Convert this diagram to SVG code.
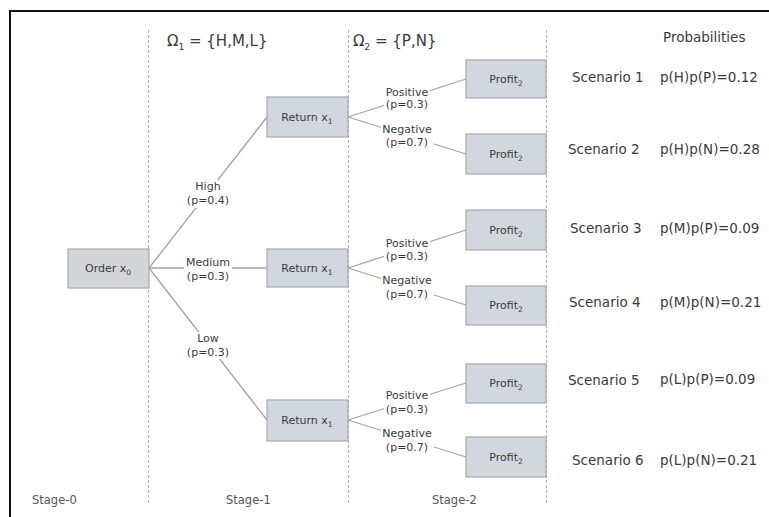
<svg xmlns="http://www.w3.org/2000/svg" width="769" height="517" viewBox="0 0 769 517">
<style>
text{font-family:"DejaVu Sans","Verdana",sans-serif;fill:#3a3a3a}
.box{fill:#d2d7de;stroke:#a6aab0;stroke-width:1.2}
.obox{fill:#d3d5d8;stroke:#a6aab0;stroke-width:1.2}
.bl{font-size:11px;text-anchor:middle}
.lbl{font-size:11px;text-anchor:middle}
.bg{fill:#fff}
.sc{font-size:13.5px}
.hd{font-size:15px}
.st{font-size:11.5px;fill:#555}
.sub{font-size:7.5px}
.dash{stroke:#b0b0b0;stroke-width:1;stroke-dasharray:3 2}
.conn line{stroke:#a3a3a3;stroke-width:1.3}
</style>
<rect x="10" y="11" width="770" height="530" fill="#fff" stroke="#111" stroke-width="2"/>
<g id="stage-dividers">
<line class="dash" x1="148.5" y1="30" x2="148.5" y2="504"/>
<line class="dash" x1="348.5" y1="30" x2="348.5" y2="504"/>
<line class="dash" x1="546.5" y1="30" x2="546.5" y2="504"/>
</g>
<g id="headers">
<text class="hd" x="167" y="46">Ω<tspan font-size="9" dy="4">1</tspan><tspan dy="-4"> = {H,M,L}</tspan></text>
<text class="hd" x="353" y="46">Ω<tspan font-size="9" dy="4">2</tspan><tspan dy="-4"> = {P,N}</tspan></text>
<text class="sc" x="663" y="42" font-size="13">Probabilities</text>
</g>
<g id="connectors" class="conn">
<line x1="149" y1="268" x2="267" y2="117"/>
<line x1="149" y1="268" x2="267" y2="268"/>
<line x1="149" y1="268" x2="267" y2="420"/>
<line x1="348" y1="117" x2="466" y2="79"/>
<line x1="348" y1="117" x2="466" y2="154"/>
<line x1="348" y1="268" x2="466" y2="230"/>
<line x1="348" y1="268" x2="466" y2="305"/>
<line x1="348" y1="420" x2="466" y2="383"/>
<line x1="348" y1="420" x2="466" y2="457"/>
</g>
<g id="edge-labels">
<rect class="bg" x="186" y="180" width="45" height="28"/>
<rect class="bg" x="184" y="255" width="48" height="27"/>
<rect class="bg" x="186" y="332" width="45" height="27"/>
<rect class="bg" x="384" y="85" width="46" height="25"/>
<rect class="bg" x="381" y="122" width="53" height="26"/>
<rect class="bg" x="384" y="236" width="46" height="25"/>
<rect class="bg" x="381" y="273" width="53" height="26"/>
<rect class="bg" x="384" y="388" width="46" height="26"/>
<rect class="bg" x="381" y="426" width="53" height="26"/>
<text class="lbl" x="208" y="190">High</text>
<text class="lbl" x="208" y="204">(p=0.4)</text>
<text class="lbl" x="208" y="266">Medium</text>
<text class="lbl" x="208" y="280">(p=0.3)</text>
<text class="lbl" x="208" y="342">Low</text>
<text class="lbl" x="208" y="356">(p=0.3)</text>
<text class="lbl" x="407" y="96">Positive</text>
<text class="lbl" x="407" y="108">(p=0.3)</text>
<text class="lbl" x="407" y="133">Negative</text>
<text class="lbl" x="407" y="146">(p=0.7)</text>
<text class="lbl" x="407" y="247">Positive</text>
<text class="lbl" x="407" y="260">(p=0.3)</text>
<text class="lbl" x="407" y="284">Negative</text>
<text class="lbl" x="407" y="298">(p=0.7)</text>
<text class="lbl" x="407" y="399">Positive</text>
<text class="lbl" x="407" y="413">(p=0.3)</text>
<text class="lbl" x="407" y="437">Negative</text>
<text class="lbl" x="407" y="451">(p=0.7)</text>
</g>
<g id="order">
<rect class="obox" x="68" y="249" width="81" height="39"/>
<text class="bl" x="108" y="272">Order x<tspan class="sub" dy="3">0</tspan></text>
</g>
<g id="return-H">
<rect class="box" x="267" y="97" width="81" height="40"/>
<text class="bl" x="307" y="121">Return x<tspan class="sub" dy="3">1</tspan></text>
</g>
<g id="return-M">
<rect class="box" x="267" y="249" width="81" height="38"/>
<text class="bl" x="307" y="272">Return x<tspan class="sub" dy="3">1</tspan></text>
</g>
<g id="return-L">
<rect class="box" x="267" y="400" width="81" height="41"/>
<text class="bl" x="307" y="424">Return x<tspan class="sub" dy="3">1</tspan></text>
</g>
<g id="profit-1"><rect class="box" x="466" y="60" width="80" height="38"/><text class="bl" x="506" y="83">Profit<tspan class="sub" dy="3">2</tspan></text></g>
<g id="profit-2"><rect class="box" x="466" y="134" width="80" height="40"/><text class="bl" x="506" y="158">Profit<tspan class="sub" dy="3">2</tspan></text></g>
<g id="profit-3"><rect class="box" x="466" y="210" width="80" height="40"/><text class="bl" x="506" y="234">Profit<tspan class="sub" dy="3">2</tspan></text></g>
<g id="profit-4"><rect class="box" x="466" y="286" width="80" height="39"/><text class="bl" x="506" y="309">Profit<tspan class="sub" dy="3">2</tspan></text></g>
<g id="profit-5"><rect class="box" x="466" y="364" width="80" height="39"/><text class="bl" x="506" y="387">Profit<tspan class="sub" dy="3">2</tspan></text></g>
<g id="profit-6"><rect class="box" x="466" y="437" width="80" height="40"/><text class="bl" x="506" y="461">Profit<tspan class="sub" dy="3">2</tspan></text></g>
<g id="scenarios">
<text class="sc" x="572" y="82">Scenario 1</text><text class="sc" x="660" y="82">p(H)p(P)=0.12</text>
<text class="sc" x="568" y="154">Scenario 2</text><text class="sc" x="660" y="154">p(H)p(N)=0.28</text>
<text class="sc" x="570" y="233">Scenario 3</text><text class="sc" x="660" y="233">p(M)p(P)=0.09</text>
<text class="sc" x="569" y="307">Scenario 4</text><text class="sc" x="660" y="307">p(M)p(N)=0.21</text>
<text class="sc" x="568" y="385">Scenario 5</text><text class="sc" x="660" y="384">p(L)p(P)=0.09</text>
<text class="sc" x="572" y="465">Scenario 6</text><text class="sc" x="660" y="465">p(L)p(N)=0.21</text>
</g>
<g id="stage-labels">
<text class="st" x="32" y="504">Stage-0</text>
<text class="st" x="226" y="504">Stage-1</text>
<text class="st" x="432" y="504">Stage-2</text>
</g>
</svg>
